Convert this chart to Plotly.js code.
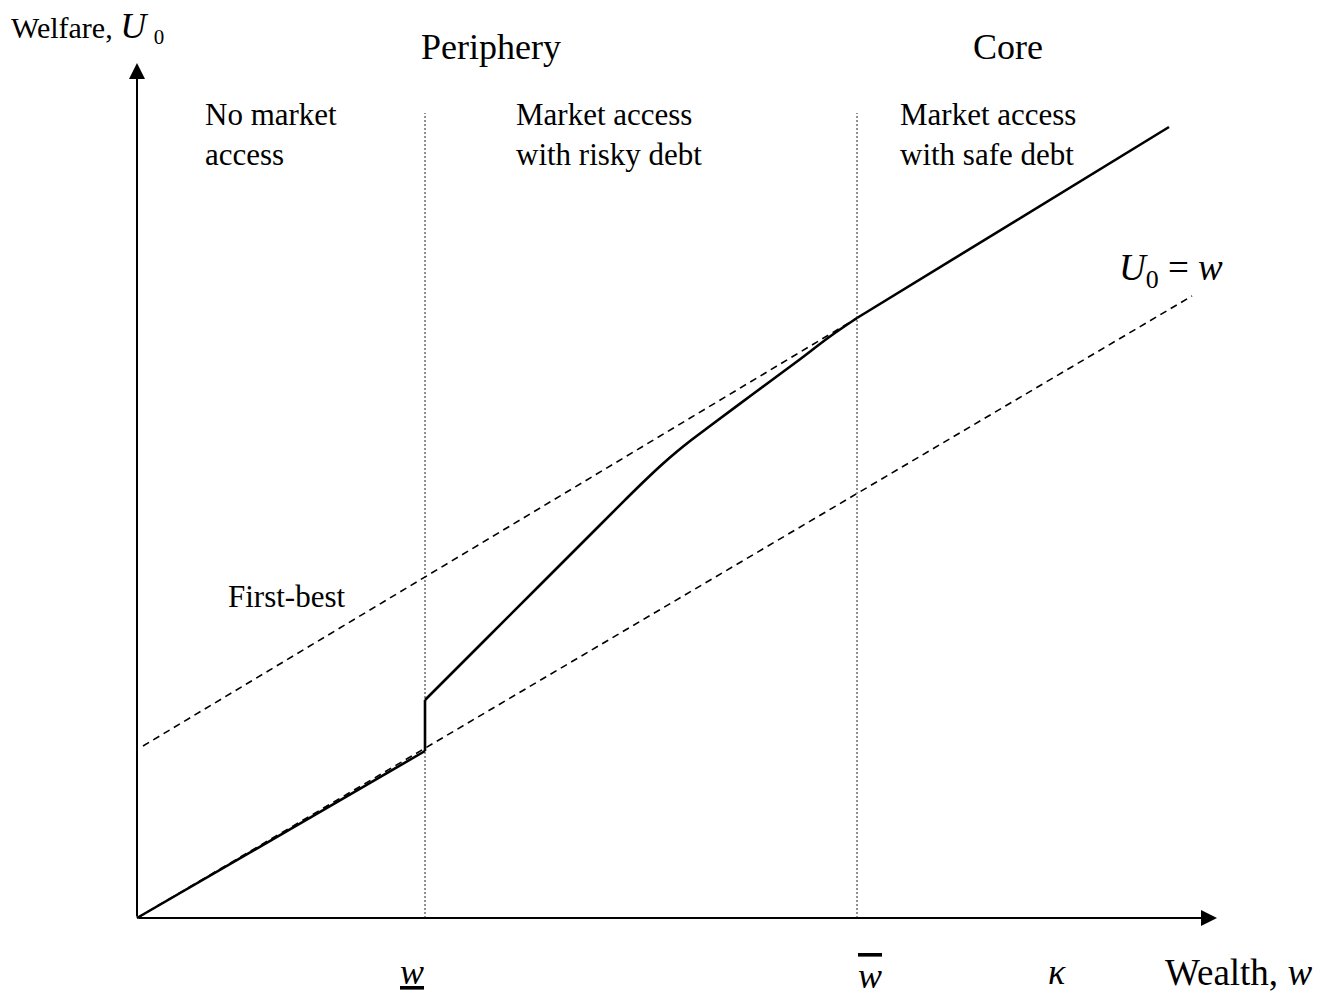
<!DOCTYPE html>
<html>
<head>
<meta charset="utf-8">
<script src="https://cdn.plot.ly/plotly-3.0.1.min.js"></script>
<style>html,body{margin:0;padding:0;background:#fff;}#chart{width:1335px;height:1002px;}</style>
</head>
<body>
<div id="chart"></div>
<script>
// ---- data (wealth w on x, welfare U0 on y; arbitrary units) ----
const noAccessX = [0, 2.88];
const noAccessY = [0, 1.67];
const jumpX = [2.88, 2.88];
const jumpY = [1.67, 2.18];
const riskyX = [2.88, 3.50, 4.03, 4.63, 4.90, 5.10, 5.25, 5.40, 5.55, 5.73, 6.16, 6.60, 6.93, 7.20];
const riskyY = [2.18, 2.80, 3.33, 3.93, 4.20, 4.395, 4.535, 4.665, 4.785, 4.92, 5.24, 5.565, 5.815, 6.00];
const safeX = [7.20, 10.32];
const safeY = [6.00, 7.91];
const u0eqwX = [0, 10.55];
const u0eqwY = [0, 6.22];
const firstBestX = [0.06, 7.20];
const firstBestY = [1.72, 6.00];
const thresholds = [2.88, 7.20];   // w_ (lower), w-bar (upper)
const thresholdTop = 8.05;
const axisEnd = {x: 10.80, y: 8.55};

// ---- text labels ----
const regimeLabels = ["No market<br>access", "Market access<br>with risky debt", "Market access<br>with safe debt"];
const groupLabels = ["Periphery", "Core"];
const tickLabels = ["<i><u>w</u></i>", "<i><span style=\"text-decoration:overline\">w</span></i>", "<i>κ</i>"];

const FONT = "'Liberation Serif', 'Times New Roman', serif";
const solid = {color: "#000", width: 2.6};
const dashed = {color: "#000", width: 1.6, dash: "7px,5px"};
const dotted = {color: "#222", width: 1, dash: "2px,2px"};

const traces = [
  {x: thresholds.flatMap(v => [v, v, null]), y: thresholds.flatMap(() => [0, thresholdTop, null]), mode: "lines", line: dotted},
  {x: noAccessX, y: noAccessY, mode: "lines", line: solid},
  {x: jumpX, y: jumpY, mode: "lines", line: solid},
  {x: riskyX, y: riskyY, mode: "lines", line: Object.assign({shape: "spline", smoothing: 1}, solid)},
  {x: safeX, y: safeY, mode: "lines", line: solid},
  {x: u0eqwX, y: u0eqwY, mode: "lines", line: dashed},
  {x: firstBestX, y: firstBestY, mode: "lines", line: dashed}
];

// pixel -> data helpers for text placement (x=0 at px 137, y=0 at px 918, 100 px per unit)
const X = px => (px - 137) / 100;
const Y = py => (918 - py) / 100;

function txt(text, px, py, size, xanchor) {
  return {text: text, x: X(px), y: Y(py), xref: "x", yref: "y", showarrow: false,
    xanchor: xanchor || "center", yanchor: "middle", align: "left",
    font: {family: FONT, size: size, color: "#000"}};
}

const annotations = [
  // axes with arrowheads
  {x: axisEnd.x, y: 0, ax: 0, ay: 0, xref: "x", yref: "y", axref: "x", ayref: "y", text: "", showarrow: true,
   arrowhead: 2, arrowsize: 1.6, arrowwidth: 2, arrowcolor: "#000"},
  {x: 0, y: axisEnd.y, ax: 0, ay: 0, xref: "x", yref: "y", axref: "x", ayref: "y", text: "", showarrow: true,
   arrowhead: 2, arrowsize: 1.6, arrowwidth: 2, arrowcolor: "#000"},
  txt("Welfare, <span style=\"font-size:36px\"><i>U</i></span> <sub>0</sub>", 9, 27, 30, "left"),
  txt(groupLabels[0], 491, 47, 36),
  txt(groupLabels[1], 1008, 47, 36),
  txt(regimeLabels[0], 203, 134, 31, "left"),
  txt(regimeLabels[1], 514, 134, 31, "left"),
  txt(regimeLabels[2], 898, 134, 31, "left"),
  txt("First-best", 226, 596, 31, "left"),
  txt("<i>U</i><sub>0</sub> = <i>w</i>", 1117, 270, 37, "left"),
  txt(tickLabels[0], 412, 972, 36),
  txt(tickLabels[1], 870, 976, 36),
  txt(tickLabels[2], 1057, 972, 36),
  txt("Wealth, <i>w</i>", 1163, 972, 37, "left")
];

const layout = {
  width: 1335, height: 1002,
  margin: {l: 0, r: 0, t: 0, b: 0},
  paper_bgcolor: "#fff", plot_bgcolor: "#fff",
  showlegend: false,
  xaxis: {range: [X(0), X(1335)], visible: false, fixedrange: true},
  yaxis: {range: [Y(1002), Y(0)], visible: false, fixedrange: true},
  annotations: annotations
};

Plotly.newPlot("chart", traces, layout, {staticPlot: true});
</script>
</body>
</html>
